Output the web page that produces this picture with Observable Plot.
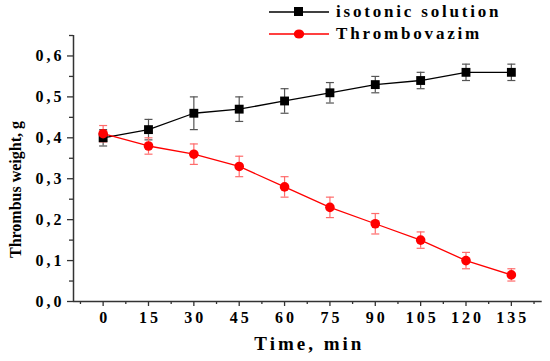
<!DOCTYPE html>
<html>
<head>
<meta charset="utf-8">
<script src="https://cdn.jsdelivr.net/npm/d3@7"></script>
<script src="https://cdn.jsdelivr.net/npm/@observablehq/plot@0.6"></script>
<style>
  html, body { margin: 0; padding: 0; background: #fff; }
  #wrap { position: relative; width: 550px; height: 361px; }
  #chart svg text { font-family: 'Liberation Serif', 'Times New Roman', Times, serif; font-weight: bold; }
  #legend { position: absolute; left: 268px; top: 1px; font-family: 'Liberation Serif', 'Times New Roman', Times, serif; font-weight: bold; font-size: 17px; }
  #legend .row { display: flex; align-items: center; height: 22px; }
  #legend svg { margin-right: 6px; }
  #legend .ch { margin-right: 2.8px; }
</style>
</head>
<body>
<div id="wrap">
  <div id="chart"></div>
  <div id="legend"></div>
</div>
<script>
const times = [0, 15, 30, 45, 60, 75, 90, 105, 120, 135];
const isotonic = [0.40, 0.42, 0.46, 0.47, 0.49, 0.51, 0.53, 0.54, 0.56, 0.56];
const isotonicErr = [0.02, 0.025, 0.04, 0.03, 0.03, 0.025, 0.02, 0.02, 0.02, 0.02];
const thrombovazim = [0.41, 0.38, 0.36, 0.33, 0.28, 0.23, 0.19, 0.15, 0.10, 0.065];
const thrombovazimErr = [0.02, 0.02, 0.025, 0.025, 0.025, 0.025, 0.025, 0.02, 0.02, 0.015];
const seriesNames = ["isotonic solution", "Thrombovazim"];
const xTicks = [0, 15, 30, 45, 60, 75, 90, 105, 120, 135];
const xMinorTicks = [-7.5, 7.5, 22.5, 37.5, 52.5, 67.5, 82.5, 97.5, 112.5, 127.5, 142.5];
const yTicks = [0, 0.1, 0.2, 0.3, 0.4, 0.5, 0.6];
const yMinorTicks = [0.05, 0.15, 0.25, 0.35, 0.45, 0.55, 0.65];
const xDomain = [-9.8, 145.2];
const yDomain = [0, 0.65];
const xLabel = "Time, min";
const yLabel = "Thrombus weight, g";

const colors = { black: "#000", red: "#ff0000" };
const errColors = { black: "#555", red: "#ff6b6b" };

const data = [];
times.forEach((t, i) => {
  data.push({ series: seriesNames[0], t, v: isotonic[i], e: isotonicErr[i], c: "black" });
  data.push({ series: seriesNames[1], t, v: thrombovazim[i], e: thrombovazimErr[i], c: "red" });
});
const iso = data.filter(d => d.c === "black");
const thr = data.filter(d => d.c === "red");

const capSymbol = { draw(ctx) { ctx.moveTo(-4, 0); ctx.lineTo(4, 0); } };
const fmt = d => d.toFixed(1).replace(".", ",");

function errMarks(arr, col) {
  return [
    Plot.ruleX(arr, { x: "t", y1: d => d.v - d.e, y2: d => d.v + d.e, stroke: col, strokeWidth: 1.2 }),
    Plot.dot(arr, { x: "t", y: d => d.v + d.e, symbol: capSymbol, stroke: col, strokeWidth: 1.2, fill: "none" }),
    Plot.dot(arr, { x: "t", y: d => d.v - d.e, symbol: capSymbol, stroke: col, strokeWidth: 1.2, fill: "none" })
  ];
}

const chart = Plot.plot({
  width: 550,
  height: 361,
  marginLeft: 73,
  marginRight: 8.3,
  marginTop: 35,
  marginBottom: 60,
  style: { fontSize: "16px", background: "#fff" },
  x: { domain: xDomain },
  y: { domain: yDomain },
  marks: [
    Plot.ruleX([xDomain[0]], { stroke: "#333", strokeWidth: 1.5 }),
    Plot.ruleY([yDomain[0]], { stroke: "#333", strokeWidth: 1.5 }),
    Plot.axisX({ ticks: xTicks, tickSize: 5, tickPadding: 5, tickFormat: d => String(d), label: null, stroke: "#333", strokeWidth: 1.3 }),
    Plot.axisX({ ticks: xMinorTicks, tickSize: 3, text: null, label: null, stroke: "#333", strokeWidth: 1.3 }),
    Plot.axisY({ ticks: yTicks, tickSize: 6, tickPadding: 6, tickFormat: fmt, label: null, stroke: "#333", strokeWidth: 1.3 }),
    Plot.axisY({ ticks: yMinorTicks, tickSize: 4, text: null, label: null, stroke: "#333", strokeWidth: 1.3 }),
    Plot.line(iso, { x: "t", y: "v", stroke: colors.black, strokeWidth: 1.3 }),
    Plot.line(thr, { x: "t", y: "v", stroke: colors.red, strokeWidth: 1.3 }),
    ...errMarks(iso, errColors.black),
    ...errMarks(thr, errColors.red),
    Plot.dot(iso, { x: "t", y: "v", symbol: "square", r: 5, fill: colors.black, stroke: "none" }),
    Plot.dot(thr, { x: "t", y: "v", symbol: "circle", r: 4.8, fill: colors.red, stroke: "none" }),
    Plot.text([xLabel], { frameAnchor: "bottom", dy: 48, fontSize: 19, fill: "#000" }),
    Plot.text([yLabel], { frameAnchor: "left", textAnchor: "middle", rotate: -90, dx: -58, dy: 21, fontSize: 16, fill: "#000" })
  ]
});
// spread glyphs apart (the reference uses wide letter spacing) with per-glyph dx
function spread(sel, gap) {
  sel.each(function () {
    const n = this.textContent.length;
    if (n < 2) return;
    const existing = this.getAttribute("dx");
    const vals = [existing ? existing : "0"];
    for (let i = 1; i < n; i++) vals.push(String(gap));
    this.setAttribute("dx", vals.join(" "));
  });
}
spread(d3.select(chart).selectAll('g[aria-label="x-axis tick label"] text'), 3);
spread(d3.select(chart).selectAll('g[aria-label="y-axis tick label"] text'), 3);
spread(d3.select(chart).selectAll("text").filter(function () { return this.textContent === xLabel; }), 3);
document.getElementById("chart").appendChild(chart);

// Legend
const legend = document.getElementById("legend");
const legendItems = [
  { name: seriesNames[0], color: colors.black, shape: "square" },
  { name: seriesNames[1], color: colors.red, shape: "circle" }
];
legendItems.forEach(item => {
  const row = document.createElement("div");
  row.className = "row";
  const marker = item.shape === "square"
    ? `<rect x="26" y="6" width="9" height="9" fill="${item.color}"/>`
    : `<ellipse cx="31" cy="11" rx="5.2" ry="4.6" fill="${item.color}"/>`;
  const chars = Array.from(item.name).map(c => `<span class="ch">${c === " " ? "&nbsp;" : c}</span>`).join("");
  row.innerHTML = `<svg width="62" height="22"><line x1="1" x2="61" y1="11" y2="11" stroke="${item.color}" stroke-width="1.5"/>${marker}</svg><span>${chars}</span>`;
  legend.appendChild(row);
});
</script>
</body>
</html>
